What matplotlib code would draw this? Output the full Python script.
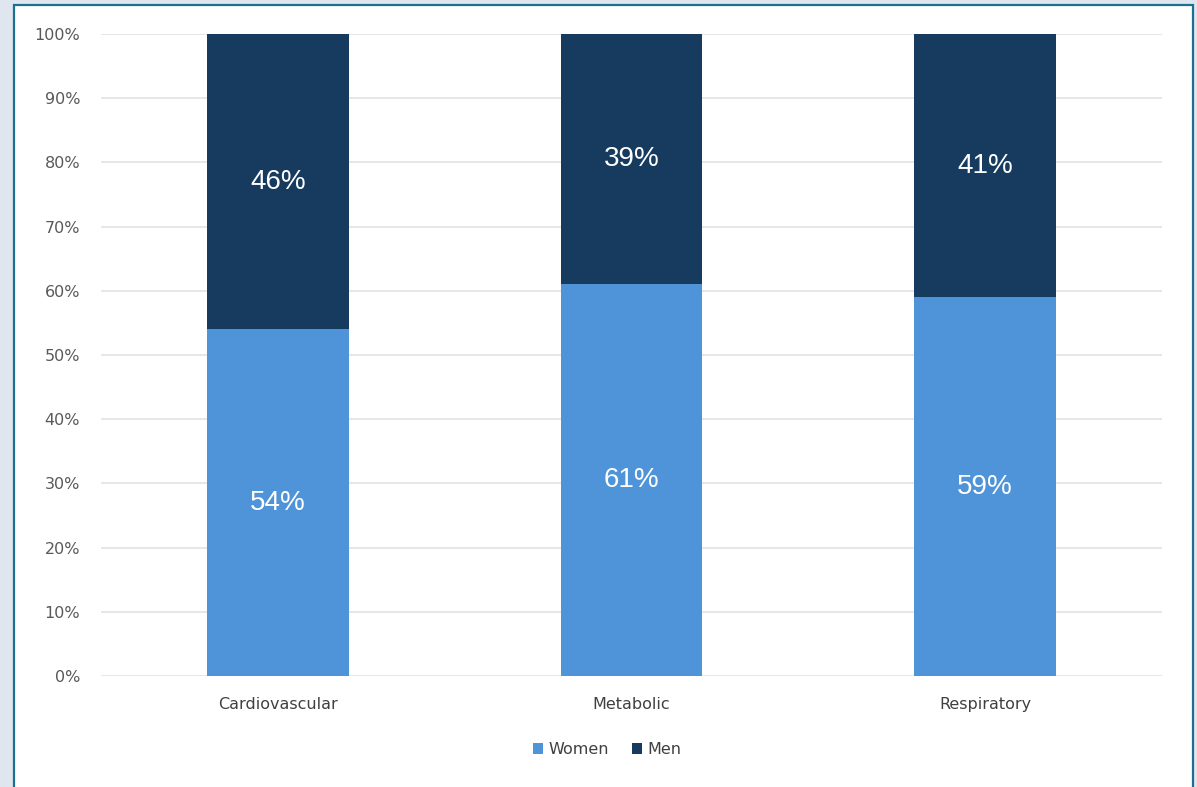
import matplotlib
matplotlib.use("Agg")
import matplotlib.pyplot as plt
from matplotlib.patches import Rectangle
from matplotlib.ticker import PercentFormatter

categories = ["Cardiovascular", "Metabolic", "Respiratory"]
women = [54, 61, 59]
men = [46, 39, 41]
series_names = ["Women", "Men"]

WOMEN_COLOR = "#4f94d8"
MEN_COLOR = "#173a5f"

plt.rcParams["font.family"] = ["DejaVu Sans"]

fig = plt.figure(figsize=(11.97, 7.87), dpi=100)
fig.patch.set_facecolor("#dfe6ef")
# white chart panel with teal border
fig.add_artist(Rectangle((14 / 1197, -0.01), 1179 / 1197, 1 - 5 / 787 + 0.01,
                         transform=fig.transFigure, facecolor="white",
                         edgecolor="#1d6f8e", linewidth=1.6, zorder=0))

ax = fig.add_axes([101 / 1197, 1 - 676 / 787, 1061 / 1197, 642 / 787])
ax.set_facecolor("none")

x = range(len(categories))
b1 = ax.bar(x, women, width=0.4, color=WOMEN_COLOR, label=series_names[0], zorder=3)
b2 = ax.bar(x, men, width=0.4, bottom=women, color=MEN_COLOR, label=series_names[1], zorder=3)

for bars, vals in ((b1, women), (b2, men)):
    for rect, v in zip(bars, vals):
        ax.text(rect.get_x() + rect.get_width() / 2, rect.get_y() + rect.get_height() / 2,
                f"{v}%", ha="center", va="center", color="white", fontsize=20,
                family=["Liberation Sans", "DejaVu Sans"], zorder=4)

ax.set_xlim(-0.5, 2.5)
ax.set_ylim(0, 100)
ax.set_yticks(range(0, 101, 10))
ax.yaxis.set_major_formatter(PercentFormatter(decimals=0))
ax.set_xticks(list(x))
ax.set_xticklabels(categories)
ax.grid(axis="y", color="#e3e3e3", linewidth=1.2, zorder=0)
for s in ax.spines.values():
    s.set_visible(False)
ax.tick_params(axis="both", length=0, labelsize=11.5, colors="#595959")
ax.tick_params(axis="y", pad=15)
ax.tick_params(axis="x", pad=15, labelcolor="#404040")

handles = [b1, b2]
ax.legend(handles, series_names, loc="center", bbox_to_anchor=(0.477, -0.115),
          ncol=2, frameon=False, fontsize=11.5, handlelength=0.65, handleheight=0.65,
          handletextpad=0.35, columnspacing=1.4, labelcolor="#404040")

fig.savefig("out.png", dpi=100, facecolor=fig.get_facecolor())
